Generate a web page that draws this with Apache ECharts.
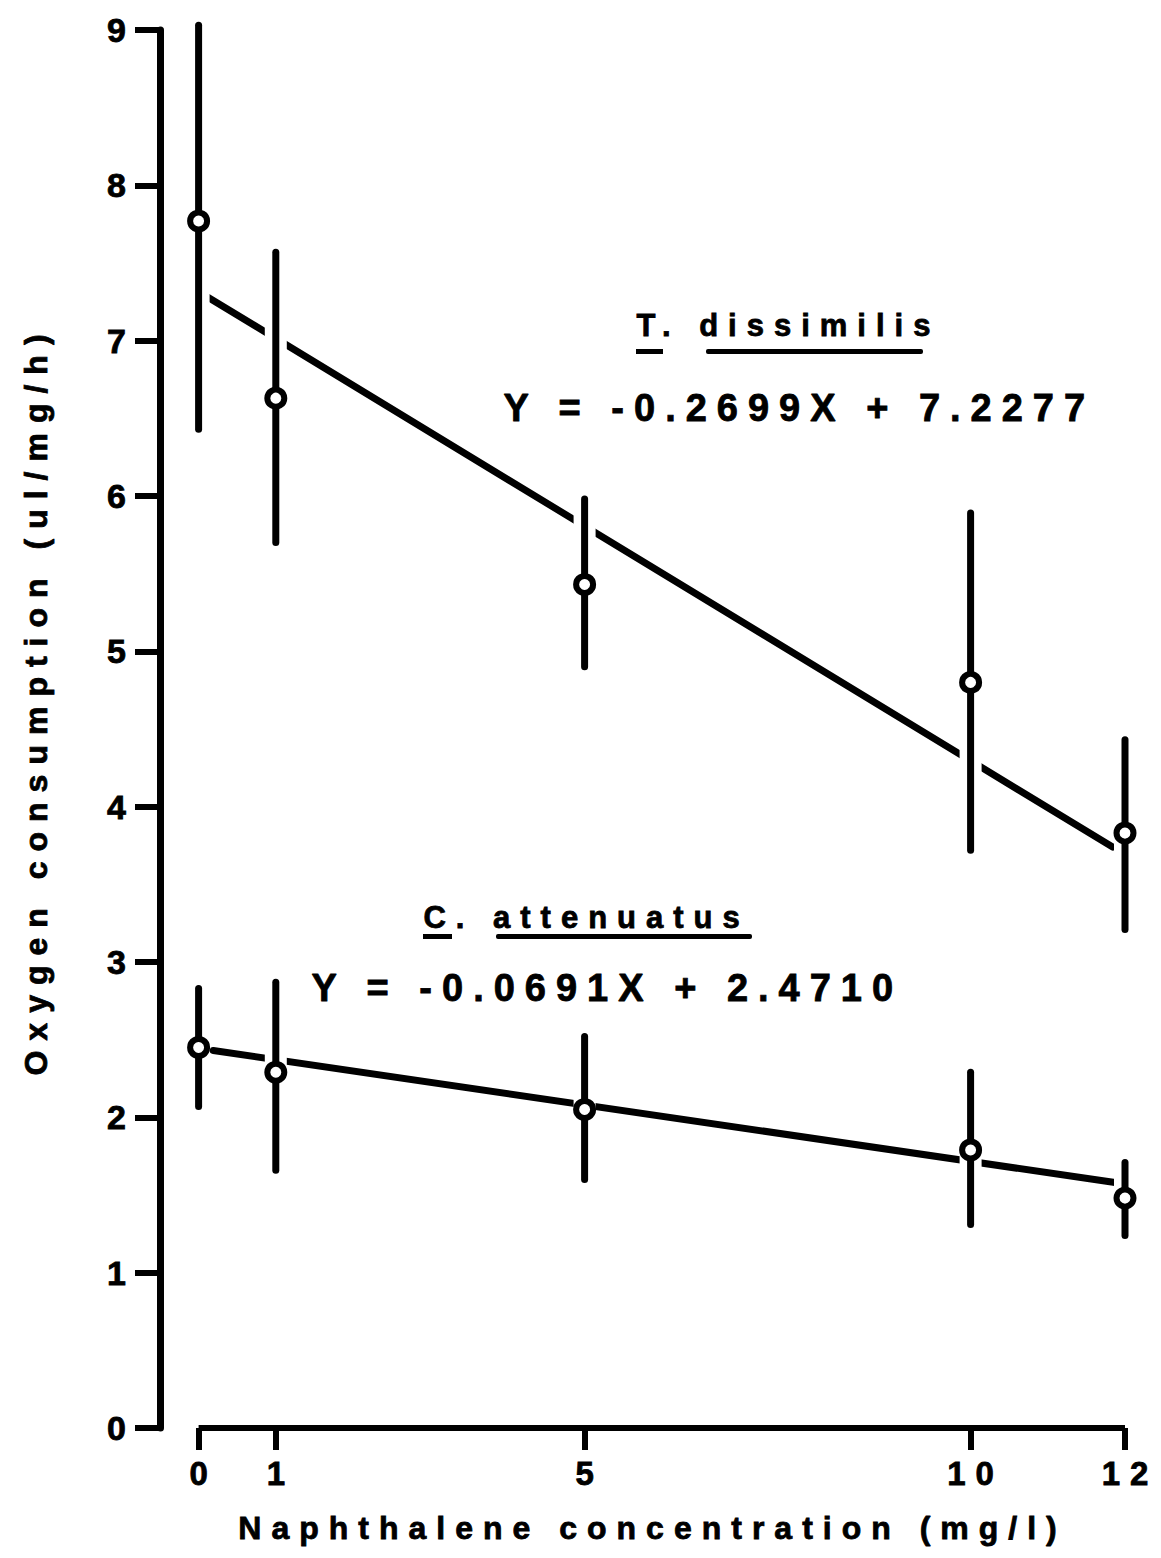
<!DOCTYPE html>
<html>
<head>
<meta charset="utf-8">
<script src="https://cdn.jsdelivr.net/npm/echarts@6/dist/echarts.min.js"></script>
<style>
  html, body { margin: 0; padding: 0; background: #ffffff; }
  #chart { width: 1161px; height: 1558px; }
  #chart svg text { letter-spacing: 10px; }
</style>
</head>
<body>
<div id="chart"></div>
<script>
// ---- data ----
const xTicks = [0, 1, 5, 10, 12];
const concentrations = [0, 1, 5, 10, 12];

// T. dissimilis: mean, lower and upper end of error bar
const tMean = [7.77, 6.63, 5.43, 4.80, 3.83];
const tLow  = [6.43, 5.70, 4.90, 3.72, 3.21];
const tHigh = [9.03, 7.57, 5.98, 5.89, 4.43];
const tFit  = [[0.12, 7.28], [11.84, 3.74]];

// C. attenuatus
const cMean = [2.45, 2.29, 2.05, 1.79, 1.48];
const cLow  = [2.07, 1.66, 1.60, 1.31, 1.24];
const cHigh = [2.83, 2.87, 2.52, 2.29, 1.71];
const cFit  = [[0.19, 2.43], [11.87, 1.58]];

const xAxisBaseline = [[0, 0], [12, 0]];

const tLabel = 'T. dissimilis';
const tEquation = 'Y = -0.2699X + 7.2277';
const cLabel = 'C. attenuatus';
const cEquation = 'Y = -0.0691X + 2.4710';
const xName = 'Naphthalene concentration (mg/l)';
const yName = 'Oxygen consumption (ul/mg/h)';

// ---- build ----
const FONT = '"Liberation Sans", Arial, Helvetica, sans-serif';
const INK = '#000000';
const HEAVY = { textBorderColor: INK, textBorderWidth: 0.8 };

function pts(xs, ys) { return xs.map((x, i) => [x, ys[i]]); }
function bars(xs, lo, hi) { return xs.map((x, i) => [x, lo[i], hi[i]]); }

function errorBarRender(params, api) {
  const x = api.value(0), lo = api.value(1), hi = api.value(2);
  const a = api.coord([x, hi]);
  const b = api.coord([x, lo]);
  return {
    type: 'group',
    children: [
      { type: 'line', shape: { x1: a[0], y1: a[1], x2: b[0], y2: b[1] },
        style: { stroke: '#ffffff', lineWidth: 22, lineCap: 'butt' } },
      { type: 'line', shape: { x1: a[0], y1: a[1], x2: b[0], y2: b[1] },
        style: { stroke: INK, lineWidth: 7, lineCap: 'round' } }
    ]
  };
}

const chart = echarts.init(document.getElementById('chart'), null, { renderer: 'svg' });

const option = {
  animation: false,
  backgroundColor: '#ffffff',
  textStyle: { fontFamily: FONT },
  grid: { left: 160, right: 36, top: 30, bottom: 130 },
  xAxis: {
    type: 'value', min: -0.5, max: 12,
    axisLine: { show: false, onZero: false },
    splitLine: { show: false },
    axisTick: { show: true, customValues: xTicks, length: 22, inside: false,
      lineStyle: { color: INK, width: 6 } },
    axisLabel: Object.assign({ show: true, customValues: xTicks, margin: 29, color: INK,
      fontSize: 33, fontWeight: 'bold', fontFamily: FONT, padding: [0, 0, 0, 10] }, HEAVY),
    name: xName, nameLocation: 'middle', nameGap: 84,
    nameTextStyle: Object.assign({ color: INK, fontSize: 32, fontWeight: 'bold', fontFamily: FONT,
      padding: [0, 0, 0, 20] }, HEAVY)
  },
  yAxis: {
    type: 'value', min: 0, max: 9, interval: 1,
    axisLine: { show: true, onZero: false, lineStyle: { color: INK, width: 7 } },
    splitLine: { show: false },
    axisTick: { show: true, length: 25, lineStyle: { color: INK, width: 6 } },
    axisLabel: Object.assign({ margin: 24, color: INK, fontSize: 34, fontWeight: 'bold',
      fontFamily: FONT }, HEAVY),
    name: yName, nameLocation: 'middle', nameGap: 108, nameRotate: 90,
    nameTextStyle: Object.assign({ color: INK, fontSize: 32, fontWeight: 'bold', fontFamily: FONT,
      padding: [0, 0, 0, 58] }, HEAVY)
  },
  series: [
    { type: 'line', data: xAxisBaseline, symbol: 'none', clip: false, silent: true, z: 1,
      lineStyle: { color: INK, width: 6, cap: 'butt' } },
    { type: 'line', name: 'T. dissimilis fit', data: tFit, symbol: 'none', clip: false, z: 2,
      lineStyle: { color: INK, width: 7, cap: 'round' } },
    { type: 'line', name: 'C. attenuatus fit', data: cFit, symbol: 'none', clip: false, z: 2,
      lineStyle: { color: INK, width: 7, cap: 'round' } },
    { type: 'custom', name: 'T. dissimilis SD', data: bars(concentrations, tLow, tHigh),
      renderItem: errorBarRender, clip: false, z: 3, encode: { x: 0, y: [1, 2] } },
    { type: 'custom', name: 'C. attenuatus SD', data: bars(concentrations, cLow, cHigh),
      renderItem: errorBarRender, clip: false, z: 3, encode: { x: 0, y: [1, 2] } },
    { type: 'scatter', name: 'T. dissimilis', data: pts(concentrations, tMean), z: 4,
      symbol: 'circle', symbolSize: 17,
      itemStyle: { color: '#ffffff', borderColor: INK, borderWidth: 6, opacity: 1 } },
    { type: 'scatter', name: 'C. attenuatus', data: pts(concentrations, cMean), z: 4,
      symbol: 'circle', symbolSize: 17,
      itemStyle: { color: '#ffffff', borderColor: INK, borderWidth: 6, opacity: 1 } }
  ],
  graphic: [
    { type: 'text', left: 636, top: 310, style: { text: tLabel, fill: INK,
      font: 'bold 31px ' + FONT, stroke: INK, lineWidth: 0.8 } },
    { type: 'rect', shape: { x: 636, y: 349, width: 27, height: 5 }, style: { fill: INK } },
    { type: 'rect', shape: { x: 706, y: 349, width: 217, height: 5, r: 2 }, style: { fill: INK } },
    { type: 'text', left: 503, top: 389, style: { text: tEquation, fill: INK,
      font: 'bold 38px ' + FONT, stroke: INK, lineWidth: 0.8 } },
    { type: 'text', left: 423, top: 902, style: { text: cLabel, fill: INK,
      font: 'bold 31px ' + FONT, stroke: INK, lineWidth: 0.8 } },
    { type: 'rect', shape: { x: 423, y: 934, width: 29, height: 5 }, style: { fill: INK } },
    { type: 'rect', shape: { x: 496, y: 934, width: 256, height: 5, r: 2 }, style: { fill: INK } },
    { type: 'text', left: 311, top: 969, style: { text: cEquation, fill: INK,
      font: 'bold 38px ' + FONT, stroke: INK, lineWidth: 0.8 } }
  ]
};

chart.setOption(option);
</script>
</body>
</html>
